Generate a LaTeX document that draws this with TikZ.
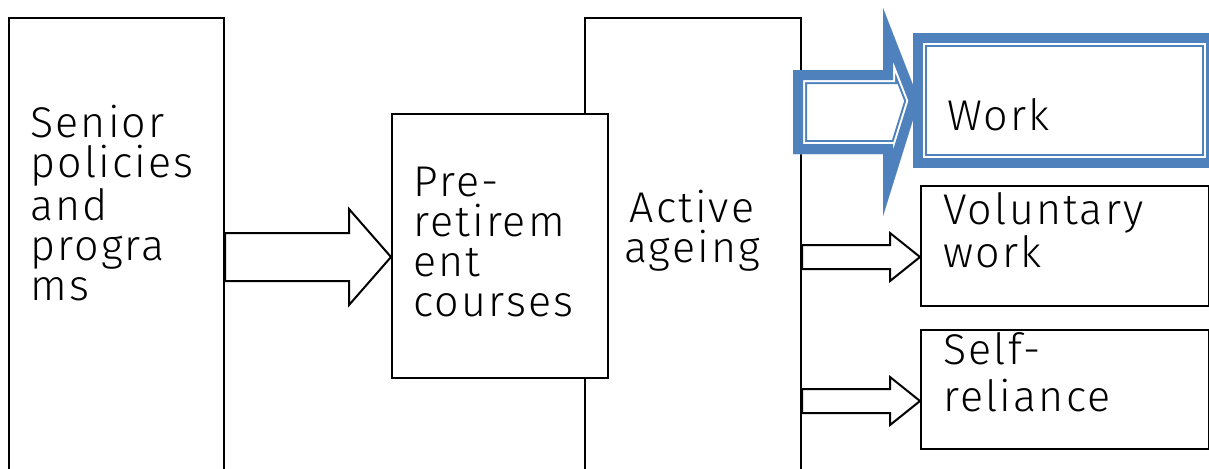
\documentclass[tikz,border=0pt]{standalone}
\usepackage{fontspec}
\setmainfont{Fira Sans Light}[LetterSpace=5]
\usetikzlibrary{calc}
\definecolor{wordblue}{RGB}{79,129,189}
% thick-thin blue outline, drawn inside the given closed path
\newcommand{\thickthin}[1]{%
  \begin{scope}
    \clip #1;
    \fill[white] #1;
    \draw[wordblue,line width=14pt] #1;
    \draw[white,line width=12pt] #1;
    \draw[wordblue,line width=10pt] #1;
  \end{scope}}
% open block arrow: start, tip, half shaft, half head, head length
\newcommand{\blockarrow}[5]{%
  \draw[blockline] ($(#1)+(0,-#3)$) -- ($(#2)+(-#5,-#3)$) -- ($(#2)+(-#5,-#4)$)
    -- (#2) -- ($(#2)+(-#5,#4)$) -- ($(#2)+(-#5,#3)$) -- ($(#1)+(0,#3)$) -- cycle;}
\begin{document}
\begin{tikzpicture}[x=0.5pt,y=-0.5pt,
    box/.style={draw,line width=1pt,fill=white,inner sep=0pt,anchor=north west},
    txt/.style={font=\fontsize{21.5}{20}\selectfont,inner sep=0pt,align=left,anchor=base west},
    blockline/.style={draw,line width=1pt,fill=white,line join=miter}]
  \useasboundingbox (0,0) rectangle (1209,468);
  % boxes
  \node[box,minimum width=107.5pt,minimum height=250pt] (sen) at (8,17) {};
  \node[box,minimum width=108pt,minimum height=250pt] (act) at (584,17) {};
  \node[box,minimum width=108pt,minimum height=132pt] (pre) at (391,113) {};
  \node[box,minimum width=144pt,minimum height=60pt] (vol) at (920,185) {};
  \node[box,minimum width=144pt,minimum height=59.5pt] (self) at (920,329) {};
  \node[inner sep=0pt,anchor=north west,minimum width=151pt,minimum height=67pt] (work) at (913,33) {};
  % arrows
  \coordinate (a1s) at (sen.east |- 0,257);
  \coordinate (a1t) at (pre.west |- 0,257);
  \coordinate (a2s) at (act.east |- 0,257);
  \coordinate (a2t) at (vol.west |- 0,257);
  \coordinate (a3s) at (act.east |- 0,401);
  \coordinate (a3t) at (self.west |- 0,401);
  \blockarrow{a1s}{a1t}{24}{48}{42}
  \blockarrow{a2s}{a2t}{12}{24}{30}
  \blockarrow{a3s}{a3t}{12}{24}{30}
  \thickthin{(793,70) -- (883,70) -- (883,8) -- ($(work.west)+(6,0)$) -- (883,216) -- (883,154) -- (793,154) -- cycle}
  \thickthin{(work.north west) rectangle (work.south east)}
  % labels
  \node[txt] (sen-t) at (30,300) {Senior\\policies\\and\\progra\\ms};
  \node[txt] (pre-t) at (413,316) {Pre-\\retirem\\ent\\courses};
  \node[txt,align=center,anchor=base] (act-t) at (692,262) {Active\\ageing};
  \node[txt] (work-t) at (947,130) {Work};
  \node[txt] (vol-t) at (943,267) {Voluntary\\work};
  \node[txt,font=\fontsize{21.5}{23.5}\selectfont] (self-t) at (943,411) {Self-\\reliance};
\end{tikzpicture}
\end{document}
